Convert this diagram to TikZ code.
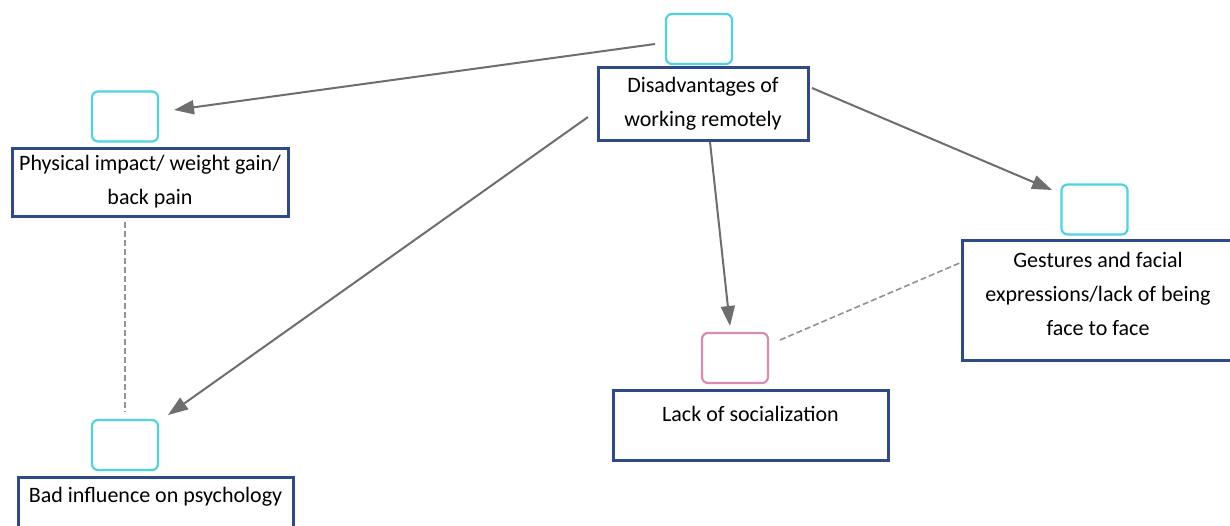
\documentclass[tikz,border=0pt]{standalone}
\usepackage{fontspec}
\setmainfont{Carlito}
\usetikzlibrary{arrows.meta}
\definecolor{navy}{HTML}{2D4A8A}
\definecolor{tealbox}{HTML}{4FD3E0}
\definecolor{pinkbox}{HTML}{D98CB2}
\definecolor{linkgray}{HTML}{6E6E6E}
\tikzset{
  x=1pt, y=-1pt,
  frame/.style={draw=navy, line width=3pt, fill=white, inner sep=0pt},
  tag/.style={draw=tealbox, line width=2.2pt, rounded corners=6pt, fill=white,
    minimum width=66pt, minimum height=50pt, inner sep=0pt},
  pinktag/.style={tag, draw=pinkbox},
  words/.style={font=\fontsize{22}{34}\selectfont, align=center, text=black, inner sep=0pt},
  link/.style={draw=linkgray, line width=2pt, -{Triangle[length=20pt,width=14pt]}},
  tie/.style={draw=linkgray!75, line width=1.6pt, dashed, dash pattern=on 6pt off 3pt}
}
\begin{document}
\begin{tikzpicture}
\useasboundingbox[fill=white] (0,0) rectangle (1230,525);

% end points of the connectors
\coordinate (s1) at (655,44);
\coordinate (s2) at (588,117);
\coordinate (s3) at (710,142);
\coordinate (s4) at (812,88);
\coordinate (e1) at (174,110);
\coordinate (e2) at (168,415);
\coordinate (e3) at (730,326);
\coordinate (e4) at (1052,190);
\coordinate (d1) at (125,222);
\coordinate (d2) at (125,412);
\coordinate (d3) at (780,340);
\coordinate (d4) at (962,262);

% top concept
\node[tag] (toptag) at (699,39) {};
\node[frame, minimum width=210pt, minimum height=73pt] (main) at (703,103.5) {};
\node[words] (maintext) at (main) {Disadvantages of\\working remotely};

% physical impact
\node[tag] (phystag) at (125,116.5) {};
\node[frame, minimum width=276pt, minimum height=68pt] (phys) at (150,182) {};
\node[words] (phystext) at (phys) {Physical impact/ weight gain/\\back pain};

% bad influence
\node[tag] (badtag) at (125,445) {};
\node[frame, minimum width=275pt, minimum height=70pt] (bad) at (155.5,512) {};
\node[words, anchor=base] (badtext) at (155.5,502) {Bad influence on psychology};

% lack of socialization
\node[pinktag] (lacktag) at (735,358) {};
\node[frame, minimum width=275pt, minimum height=70pt] (lack) at (750.5,425) {};
\node[words, anchor=base] (lacktext) at (750.5,421) {Lack of socialization};

% gestures
\node[tag] (gesttag) at (1094.5,209.5) {};
\node[frame, minimum width=272pt, minimum height=120pt] (gest) at (1098,300) {};
\node[words] (gesttext) at (1098,294) {Gestures and facial\\expressions/lack of being\\face to face};

% arrows from the main concept
\draw[link] (s1) -- (e1);
\draw[link] (s2) -- (e2);
\draw[link] (s3) -- (e3);
\draw[link] (s4) -- (e4);

% dashed ties
\draw[tie] (d1) -- (d2);
\draw[tie] (d3) -- (d4);
\end{tikzpicture}
\end{document}
